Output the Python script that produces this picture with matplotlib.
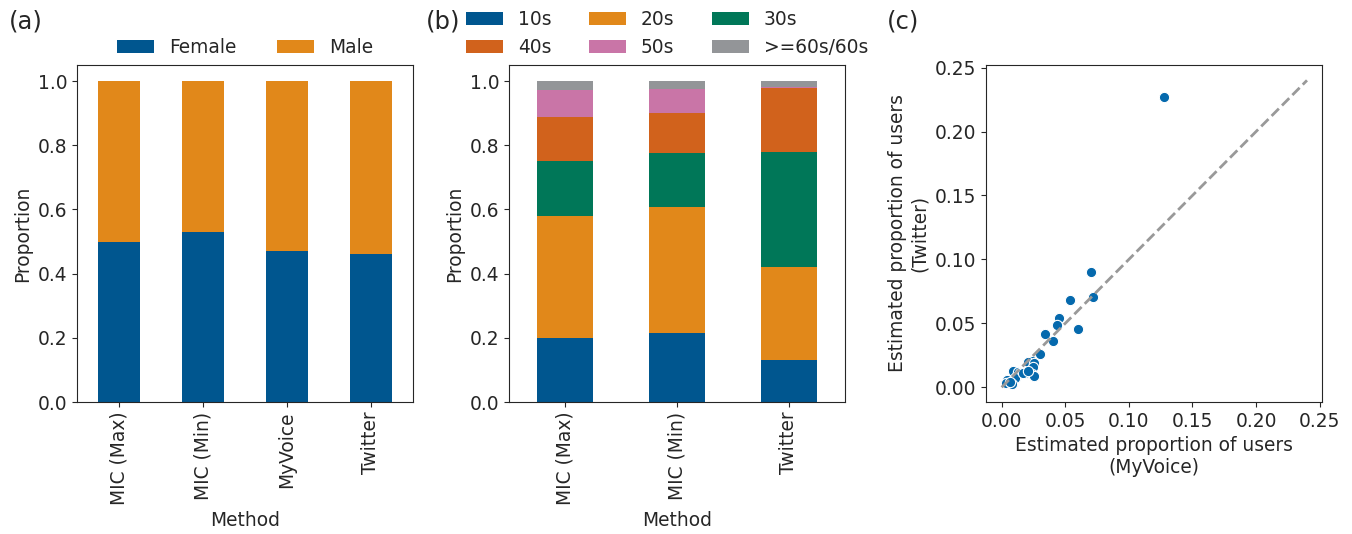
"""Gender / age proportions by method and MyVoice vs Twitter scatter."""

import matplotlib
matplotlib.use("Agg")
import matplotlib.pyplot as plt
import numpy as np
import seaborn as sns

sns.set_style("ticks")
plt.rcParams["font.family"] = ["DejaVu Sans"]
plt.rcParams["font.size"] = 13.4
plt.rcParams["text.color"] = "#262626"
plt.rcParams["axes.labelcolor"] = "#262626"
plt.rcParams["xtick.color"] = "#262626"
plt.rcParams["ytick.color"] = "#262626"

# (a) gender
gender_methods = ["MIC (Max)", "MIC (Min)", "MyVoice", "Twitter"]
female = [0.497, 0.531, 0.472, 0.462]
male = [0.503, 0.469, 0.528, 0.538]

# (b) age groups
age_methods = ["MIC (Max)", "MIC (Min)", "Twitter"]
age_labels = ["10s", "20s", "30s", "40s", "50s", ">=60s/60s"]
age_10s = [0.199, 0.215, 0.131]
age_20s = [0.381, 0.392, 0.289]
age_30s = [0.172, 0.169, 0.360]
age_40s = [0.136, 0.124, 0.199]
age_50s = [0.085, 0.076, 0.002]
age_60s = [0.027, 0.024, 0.019]

# (c) estimated proportion of users per group
myvoice = [0.128, 0.0705, 0.0718, 0.0535, 0.045, 0.0437, 0.0597, 0.034,
           0.0406, 0.0303, 0.024, 0.021, 0.0256, 0.0248, 0.0196, 0.0236,
           0.0256, 0.0092, 0.013, 0.0144, 0.0113, 0.0105, 0.0039, 0.0034,
           0.0079, 0.0065, 0.0165, 0.021]
twitter = [0.227, 0.090, 0.0705, 0.068, 0.054, 0.049, 0.0458, 0.042,
           0.036, 0.026, 0.0205, 0.020, 0.019, 0.0161, 0.011, 0.0104,
           0.009, 0.0127, 0.012, 0.0114, 0.0083, 0.0075, 0.0057, 0.0031,
           0.0026, 0.004, 0.011, 0.0125]

colors = ["#00568F", "#E1881A", "#007758", "#D1621C", "#C975A7", "#939598"]
W, H = 1352, 534

fig = plt.figure(figsize=(W / 100, H / 100), dpi=100)


def box(left, right, top=65, bottom=402):
    return [left / W, (H - bottom) / H, (right - left) / W, (bottom - top) / H]


# panel (a)
ax_a = fig.add_axes(box(77, 413))
x = np.arange(len(gender_methods))
ax_a.bar(x, female, 0.5, color=colors[0], linewidth=0, label="Female")
ax_a.bar(x, male, 0.5, bottom=female, color=colors[1], linewidth=0, label="Male")
ax_a.set_xlim(-0.5, len(gender_methods) - 0.5)
ax_a.set_ylim(0, 1.05)
ax_a.set_xticks(x, gender_methods, rotation=90)
ax_a.set_xlabel("Method")
ax_a.set_ylabel("Proportion")
ax_a.legend(loc="lower center", bbox_to_anchor=(0.5, 1.0), ncol=2, frameon=False,
            columnspacing=2.2, borderaxespad=0.05)

# panel (b)
ax_b = fig.add_axes(box(509, 845))
x = np.arange(len(age_methods))
bottom = np.zeros(len(age_methods))
handles = []
for vals, lab, col in zip([age_10s, age_20s, age_30s, age_40s, age_50s, age_60s],
                          age_labels, colors):
    h = ax_b.bar(x, vals, 0.5, bottom=bottom, color=col, linewidth=0, label=lab)
    handles.append(h)
    bottom += np.array(vals)
ax_b.set_xlim(-0.5, len(age_methods) - 0.5)
ax_b.set_ylim(0, 1.05)
ax_b.set_xticks(x, age_methods, rotation=90)
ax_b.set_xlabel("Method")
ax_b.set_ylabel("Proportion")
order = [0, 3, 1, 4, 2, 5]
ax_b.legend([handles[i] for i in order], [age_labels[i] for i in order],
            loc="lower center", bbox_to_anchor=(0.47, 1.0), ncol=3, frameon=False,
            columnspacing=2.0, borderaxespad=0.05, labelspacing=0.45)

# panel (c)
ax_c = fig.add_axes(box(986, 1322))
ax_c.scatter(myvoice, twitter, s=55, color="#0569AD", edgecolor="white",
             linewidth=0.8, zorder=2)
ax_c.plot([0, 0.24], [0, 0.24], ls="--", color="#999999", lw=2, zorder=3)
ax_c.set_xlim(-0.0123, 0.2518)
ax_c.set_ylim(-0.0115, 0.252)
ax_c.set_xticks([0, 0.05, 0.10, 0.15, 0.20, 0.25])
ax_c.set_yticks([0, 0.05, 0.10, 0.15, 0.20, 0.25])
ax_c.set_xlabel("Estimated proportion of users\n(MyVoice)")
ax_c.set_ylabel("Estimated proportion of users\n(Twitter)")

for ax in (ax_a, ax_b, ax_c):
    for sp in ax.spines.values():
        sp.set_visible(True)

fig.text(9 / W, 1 - 22 / H, "(a)", fontsize=17.5, va="center")
fig.text(426 / W, 1 - 22 / H, "(b)", fontsize=17.5, va="center")
fig.text(887 / W, 1 - 22 / H, "(c)", fontsize=17.5, va="center")

fig.savefig("out.png", dpi=100)
